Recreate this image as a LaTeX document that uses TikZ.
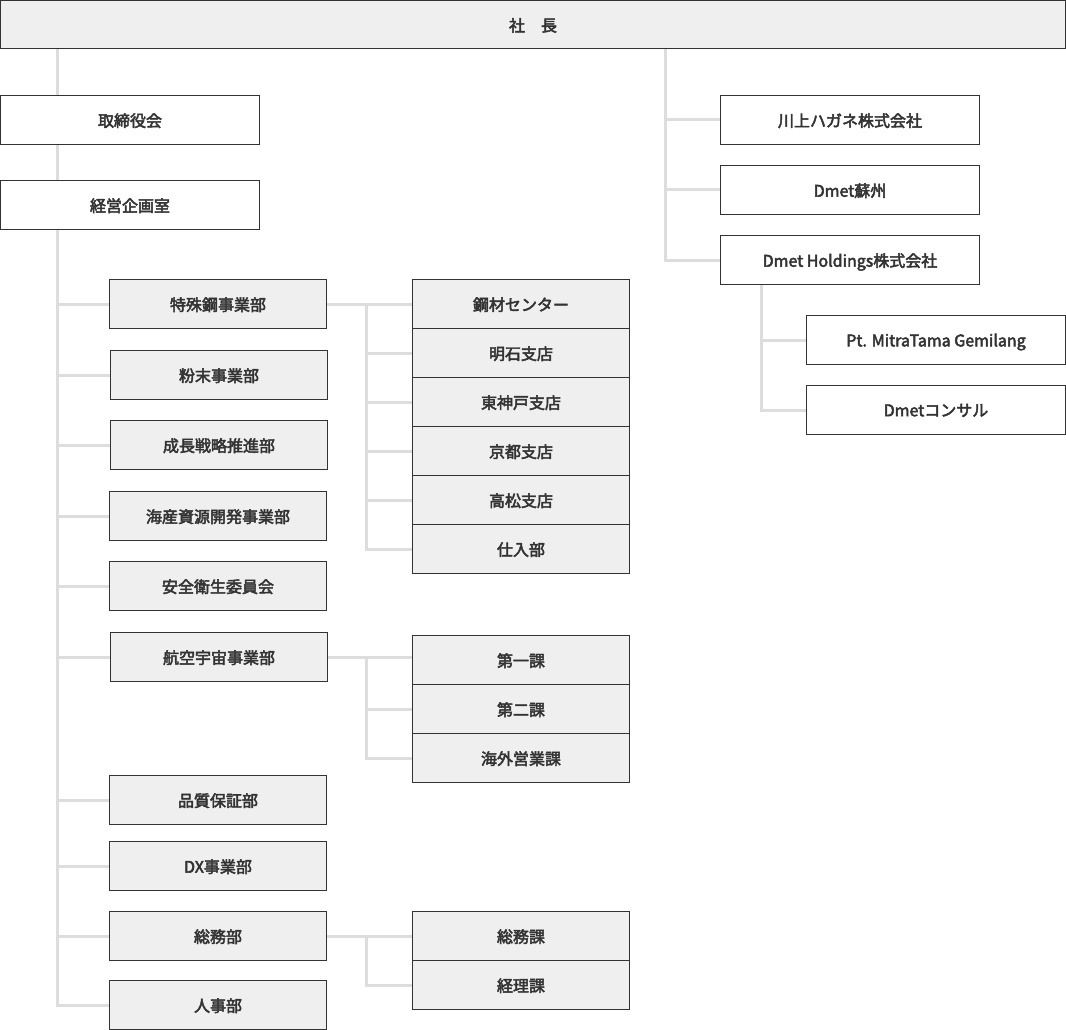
\documentclass[tikz,border=0pt]{standalone}
\usepackage{fontspec}
\setmainfont{Noto Sans CJK JP}[BoldFont=Noto Sans CJK JP, BoldFeatures={FakeBold=3}]
\usetikzlibrary{backgrounds}
\definecolor{boxgray}{HTML}{EFEFEF}
\definecolor{edge}{HTML}{333333}
\definecolor{linegray}{HTML}{DDDDDD}
\definecolor{txt}{HTML}{333333}
\tikzset{
  orgbox/.style={draw=edge, line width=1pt, rectangle, inner sep=0pt, outer sep=0pt,
    minimum height=49pt, anchor=north west, text=txt, text depth=0pt,
    font=\fontsize{16pt}{19pt}\selectfont\bfseries},
  wbox/.style={orgbox, fill=white, minimum width=259pt},
  gbox/.style={orgbox, fill=boxgray, minimum width=217pt},
  conn/.style={draw=linegray, line width=3pt}
}
\begin{document}
\begin{tikzpicture}[x=1pt,y=-1pt]
\useasboundingbox (0,0) rectangle (1066,1030);
% top
\node[orgbox, fill=boxgray, minimum width=1065pt, minimum height=48.5pt] (pres) at (0.5,0.5) {社　長};
% left column
\node[wbox] (torishimari) at (0.5,95.5) {取締役会};
\node[wbox] (keiei) at (0.5,180.5) {経営企画室};
% level 2
\node[gbox] (tokushu) at (109.5,279.5) {特殊鋼事業部};
\node[gbox] (funmatsu) at (110.5,350.5) {粉末事業部};
\node[gbox] (seicho) at (110.5,420.5) {成長戦略推進部};
\node[gbox] (kaisan) at (109.5,491.5) {海産資源開発事業部};
\node[gbox] (anzen) at (109.5,561.5) {安全衛生委員会};
\node[gbox] (koku) at (110.5,632.5) {航空宇宙事業部};
\node[gbox] (hinshitsu) at (109.5,775.5) {品質保証部};
\node[gbox] (dx) at (109.5,841.5) {DX事業部};
\node[gbox] (somu) at (109.5,911.5) {総務部};
\node[gbox] (jinji) at (109.5,980.5) {人事部};
% level 3 tokushu
\node[gbox] (kozai) at (412.5,279.5) {鋼材センター};
\node[gbox] (akashi) at (412.5,328.5) {明石支店};
\node[gbox] (higashi) at (412.5,377.5) {東神戸支店};
\node[gbox] (kyoto) at (412.5,426.5) {京都支店};
\node[gbox] (takamatsu) at (412.5,475.5) {高松支店};
\node[gbox] (shiire) at (412.5,524.5) {仕入部};
% level 3 koku
\node[gbox] (dai1) at (412.5,635.5) {第一課};
\node[gbox] (dai2) at (412.5,684.5) {第二課};
\node[gbox] (kaigai) at (412.5,733.5) {海外営業課};
% level 3 somu
\node[gbox] (somuka) at (412.5,911.5) {総務課};
\node[gbox] (keiri) at (412.5,960.5) {経理課};
% right group
\node[wbox] (kawakami) at (720.5,95.5) {川上ハガネ株式会社};
\node[wbox] (suzhou) at (720.5,165.5) {Dmet蘇州};
\node[wbox] (holdings) at (720.5,235.5) {Dmet Holdings株式会社};
\node[wbox] (pt) at (806.5,315.5) {Pt. MitraTama Gemilang};
\node[wbox] (consul) at (806.5,385.5) {Dmetコンサル};
% connectors
\begin{scope}[on background layer]
\coordinate (tx) at (57,49);
\coordinate (sx) at (366,0);
\coordinate (rx) at (665,49);
\coordinate (hx) at (761,0);
\draw[conn] (tx) |- (jinji.west);
\foreach \n in {tokushu,funmatsu,seicho,kaisan,anzen,koku,hinshitsu,dx,somu}
  \draw[conn] (tx |- \n.west) -- (\n.west);
\draw[conn] (tokushu.east) -- (kozai.west);
\draw[conn] (sx |- tokushu.east) |- (shiire.west);
\foreach \n in {akashi,higashi,kyoto,takamatsu}
  \draw[conn] (sx |- \n.west) -- (\n.west);
\draw[conn] (koku.east) -- (koku.east -| dai1.west);
\draw[conn] (sx |- koku.east) |- (kaigai.west);
\draw[conn] (sx |- dai2.west) -- (dai2.west);
\draw[conn] (somu.east) -- (somuka.west);
\draw[conn] (sx |- somu.east) |- (keiri.west);
\draw[conn] (rx) |- (holdings.west);
\draw[conn] (rx |- kawakami.west) -- (kawakami.west);
\draw[conn] (rx |- suzhou.west) -- (suzhou.west);
\draw[conn] (hx |- holdings.south) |- (consul.west);
\draw[conn] (hx |- pt.west) -- (pt.west);
\end{scope}
\end{tikzpicture}
\end{document}
